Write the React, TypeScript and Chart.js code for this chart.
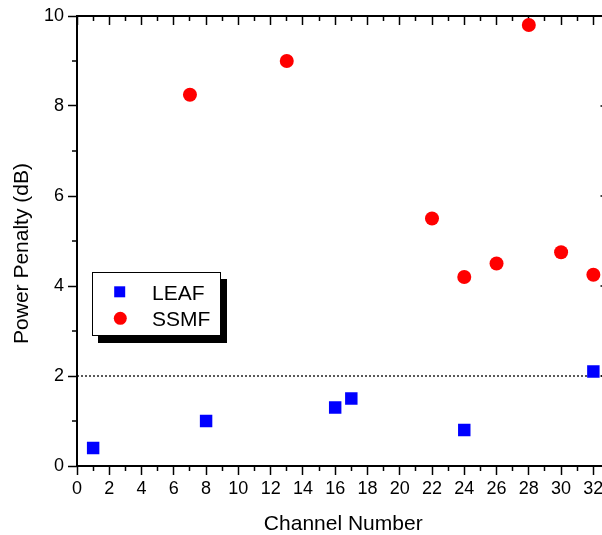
import React, { useEffect, useRef } from 'react';
import { Chart, registerables } from 'chart.js';

Chart.register(...registerables);

// ---- data ----
const leafChannels = [1, 8, 16, 17, 24, 32];
const leafPenalty = [0.4, 1.0, 1.3, 1.5, 0.8, 2.1];
const ssmfChannels = [7, 13, 22, 24, 26, 28, 30, 32];
const ssmfPenalty = [8.25, 9.0, 5.5, 4.2, 4.5, 9.8, 4.75, 4.25];
const referenceLevel = 2;
const seriesNames = ['LEAF', 'SSMF'];

// ---- axes ----
const xRange = [0, 33];
const yRange = [0, 10];
const xMajorTicks = [0, 2, 4, 6, 8, 10, 12, 14, 16, 18, 20, 22, 24, 26, 28, 30, 32];
const xMinorTicks = [1, 3, 5, 7, 9, 11, 13, 15, 17, 19, 21, 23, 25, 27, 29, 31];
const yMajorTicks = [0, 2, 4, 6, 8, 10];
const yMinorTicks = [1, 3, 5, 7, 9];
const xTitle = 'Channel Number';
const yTitle = 'Power Penalty (dB)';

const FONT = '"Liberation Sans", Arial, Helvetica, sans-serif';
const BLUE = '#0000ff';
const RED = '#ff0000';

// dotted reference level, drawn under the markers
const referencePlugin = {
  id: 'referenceLevel',
  beforeDatasetsDraw(chart: any) {
    const { ctx, chartArea, scales } = chart;
    const py = scales.y.getPixelForValue(referenceLevel);
    ctx.save();
    ctx.strokeStyle = '#000';
    ctx.lineWidth = 1.3;
    ctx.setLineDash([2, 2]);
    ctx.beginPath();
    ctx.moveTo(chartArea.left, py);
    ctx.lineTo(chartArea.right, py);
    ctx.stroke();
    ctx.restore();
  },
};

const framePlugin = {
  id: 'originFrame',
  afterDraw(chart: any) {
    const { ctx, chartArea, scales } = chart;
    const { left, right, top, bottom } = chartArea;
    const ys = scales.y;
    ctx.save();
    ctx.setLineDash([]);
    ctx.strokeStyle = '#000';
    ctx.lineWidth = 1.5;

    for (const v of yMinorTicks) {
      const py = ys.getPixelForValue(v);
      ctx.beginPath();
      ctx.moveTo(left, py);
      ctx.lineTo(left - 5, py);
      ctx.moveTo(right, py);
      ctx.lineTo(right - 5, py);
      ctx.stroke();
    }
    for (const v of yMajorTicks) {
      const py = ys.getPixelForValue(v);
      ctx.beginPath();
      ctx.moveTo(right, py);
      ctx.lineTo(right - 9, py);
      ctx.stroke();
    }

    ctx.lineWidth = 2;
    ctx.strokeRect(left, top, right - left, bottom - top);

    // y axis title
    ctx.save();
    ctx.translate(27.5, 253.5);
    ctx.rotate(-Math.PI / 2);
    ctx.fillStyle = '#000';
    ctx.font = `21px ${FONT}`;
    ctx.textAlign = 'center';
    ctx.textBaseline = 'alphabetic';
    ctx.fillText(yTitle, 0, 0);
    ctx.restore();

    // legend with shadow
    const bx = 92, by = 272, bw = 129, bh = 64;
    ctx.fillStyle = '#000';
    ctx.fillRect(bx + 6, by + 7, bw, bh);
    ctx.fillStyle = '#fff';
    ctx.fillRect(bx, by, bw, bh);
    ctx.lineWidth = 1;
    ctx.strokeStyle = '#000';
    ctx.strokeRect(bx + 0.5, by + 0.5, bw - 1, bh - 1);

    ctx.fillStyle = BLUE;
    ctx.fillRect(114.2, 286.3, 11, 11);
    ctx.fillStyle = RED;
    ctx.beginPath();
    ctx.arc(120.3, 318.3, 6.5, 0, Math.PI * 2);
    ctx.fill();

    ctx.fillStyle = '#000';
    ctx.font = `21px ${FONT}`;
    ctx.textAlign = 'left';
    ctx.textBaseline = 'alphabetic';
    ctx.fillText(seriesNames[0], 152, 299.5);
    ctx.fillText(seriesNames[1], 152, 325.8);
    ctx.restore();
  },
};

// a tick-only axis (no labels, no space taken) used for minor / mirrored ticks
function tickOnlyAxis(position: 'top' | 'bottom', values: number[], length: number, weight: number) {
  return {
    type: 'linear' as const,
    position,
    weight,
    min: xRange[0],
    max: xRange[1],
    afterBuildTicks: (scale: any) => {
      scale.ticks = values.map((v) => ({ value: v }));
    },
    afterFit: (scale: any) => {
      scale.height = 0;
      scale.paddingLeft = 0;
      scale.paddingRight = 0;
      scale.paddingTop = 0;
      scale.paddingBottom = 0;
    },
    grid: {
      display: true,
      drawOnChartArea: false,
      drawTicks: true,
      tickLength: length,
      tickColor: '#000',
      tickWidth: 1.5,
    },
    border: { display: false },
    ticks: { display: false },
  };
}

export default function App() {
  const canvasRef = useRef<HTMLCanvasElement | null>(null);

  useEffect(() => {
    document.body.style.margin = '0';
    const canvas = canvasRef.current;
    if (!canvas) return;

    const chart = new Chart(canvas, {
      type: 'scatter',
      data: {
        datasets: [
          {
            label: seriesNames[0],
            data: leafChannels.map((c, i) => ({ x: c, y: leafPenalty[i] })),
            backgroundColor: BLUE,
            borderColor: BLUE,
            pointStyle: 'rect',
            pointRadius: 8.8,
            pointBorderWidth: 0,
          },
          {
            label: seriesNames[1],
            data: ssmfChannels.map((c, i) => ({ x: c, y: ssmfPenalty[i] })),
            backgroundColor: RED,
            borderColor: RED,
            pointStyle: 'circle',
            pointRadius: 7,
            pointBorderWidth: 0,
          },
        ],
      },
      options: {
        responsive: false,
        animation: false,
        devicePixelRatio: 1,
        layout: { padding: { left: 0, top: 16, right: 10.5, bottom: 0 } },
        plugins: {
          legend: { display: false },
          tooltip: { enabled: false },
        },
        scales: {
          x: {
            type: 'linear',
            position: 'bottom',
            weight: 1,
            min: xRange[0],
            max: xRange[1],
            afterBuildTicks: (scale: any) => {
              scale.ticks = xMajorTicks.map((v) => ({ value: v }));
            },
            afterFit: (scale: any) => {
              scale.height = 69;
              scale.paddingLeft = 0;
              scale.paddingRight = 0;
            },
            grid: { drawOnChartArea: false, tickLength: 9, tickColor: '#000', tickWidth: 1.5 },
            border: { display: false },
            ticks: {
              color: '#000',
              font: { family: FONT, size: 18 },
              padding: 3,
              maxRotation: 0,
              autoSkip: false,
            },
            title: {
              display: true,
              text: xTitle,
              color: '#000',
              font: { family: FONT, size: 21, lineHeight: 1 },
              padding: 0,
            },
          },
          xMinor: tickOnlyAxis('bottom', xMinorTicks, 5, 0),
          xTop: tickOnlyAxis('top', xMajorTicks, -9, 0),
          xTopMinor: tickOnlyAxis('top', xMinorTicks, -5, 1),
          y: {
            type: 'linear',
            position: 'left',
            min: yRange[0],
            max: yRange[1],
            afterBuildTicks: (scale: any) => {
              scale.ticks = yMajorTicks.map((v) => ({ value: v }));
            },
            afterFit: (scale: any) => {
              scale.width = 77;
              scale.paddingTop = 0;
              scale.paddingBottom = 0;
            },
            grid: { drawOnChartArea: false, tickLength: 9, tickColor: '#000', tickWidth: 1.5 },
            border: { display: false },
            ticks: {
              color: '#000',
              font: { family: FONT, size: 18 },
              padding: 4,
            },
          },
        },
      } as any,
      plugins: [referencePlugin, framePlugin],
    });

    return () => chart.destroy();
  }, []);

  return (
    <div
      style={{
        position: 'fixed',
        left: 0,
        top: 0,
        width: 602,
        height: 535,
        overflow: 'hidden',
        background: '#fff',
      }}
    >
      <canvas
        ref={canvasRef}
        width={620}
        height={535}
        style={{ display: 'block', width: 620, height: 535 }}
      />
    </div>
  );
}
